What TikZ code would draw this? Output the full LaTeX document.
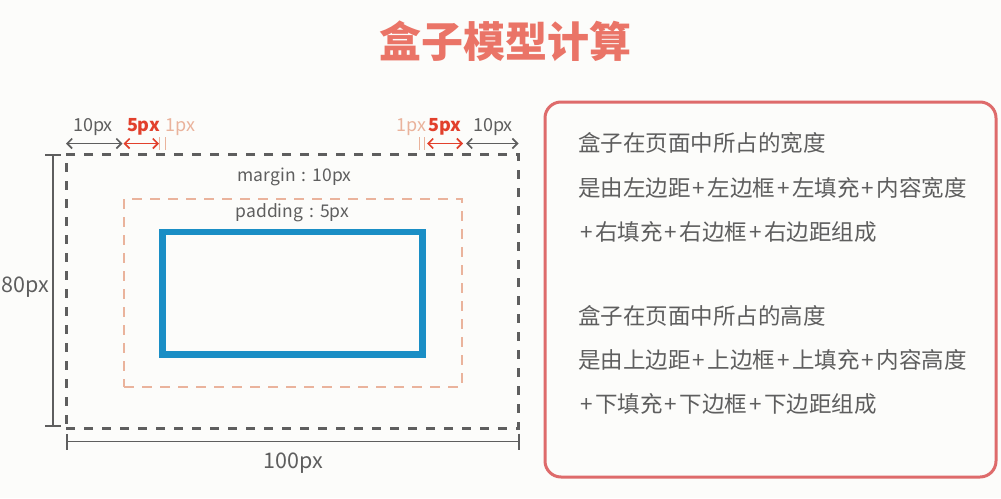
\documentclass[tikz,border=0pt]{standalone}
\usepackage{fontspec}
\setmainfont{Noto Sans CJK SC}
\usetikzlibrary{arrows.meta}

\definecolor{bg}{HTML}{FCFCFA}
\definecolor{ink}{HTML}{5E5E5E}
\definecolor{titlered}{HTML}{EA7467}
\definecolor{accent}{HTML}{E2402C}
\definecolor{peach}{HTML}{EAB39C}
\definecolor{boxblue}{HTML}{1A8EC5}
\definecolor{panelred}{HTML}{DE6B6B}

% a plus sign with a fixed advance, between CJK characters
\newcommand\pl{\makebox[17pt]{+}}
% a spaced colon inside the box labels
\newcommand\spcolon{\makebox[17pt]{:}}

\tikzset{
  titletext/.style={text=titlered, font=\fontsize{42}{50}\selectfont\bfseries, inner sep=0},
  dimlabel/.style={text=ink, font=\fontsize{18}{22}\selectfont, inner sep=0},
  redlabel/.style={text=accent, font=\fontsize{18}{22}\selectfont\bfseries, inner sep=0},
  peachlabel/.style={text=peach, font=\fontsize{18}{22}\selectfont, inner sep=0},
  boxlabel/.style={text=ink, font=\fontsize{17.5}{21}\selectfont, inner sep=0},
  biglabel/.style={text=ink, font=\fontsize{21.5}{25}\selectfont, inner sep=0},
  marginbox/.style={draw=ink, line width=3pt, dash pattern=on 9pt off 9pt, inner sep=0, outer sep=0},
  paddingbox/.style={draw=peach, line width=2pt, dash pattern=on 10pt off 8pt, inner sep=0, outer sep=0},
  contentbox/.style={draw=boxblue, line width=6.5pt, inner sep=0, outer sep=0},
  panelbox/.style={draw=panelred, line width=3pt, rounded corners=16pt, inner sep=0, outer sep=0},
  graydim/.style={draw=ink, line width=1.6pt, {Straight Barb[length=5pt,width=10pt]}-{Straight Barb[length=5pt,width=10pt]}},
  reddim/.style={draw=accent, line width=1.6pt, {Straight Barb[length=5pt,width=10pt]}-{Straight Barb[length=5pt,width=10pt]}},
  barline/.style={draw=ink, line width=1.6pt, {Bar[width=16pt,line width=1.6pt]}-{Bar[width=16pt,line width=1.6pt]}},
  bordertick/.style={draw=peach, line width=1.4pt},
  paneltext/.style={text=ink, anchor=west, font=\fontsize{22.5}{27}\selectfont, inner sep=0},
}

\begin{document}
\begin{tikzpicture}[x=1pt,y=-1pt]
  \fill[bg] (0,0) rectangle (1001,498);
  \useasboundingbox (0,0) rectangle (1001,498);

  % heading
  \node[titletext] (title) at (505,41) {盒子模型计算};

  % the three nested boxes
  \node[marginbox, minimum width=452.5pt, minimum height=274pt] (mbox) at (292.25,291) {};
  \node[paddingbox, minimum width=337.5pt, minimum height=188.5pt] (pbox) at (292.75,292.75) {};
  \node[contentbox, minimum width=260pt, minimum height=122.5pt] (cbox) at (292.5,293.25) {};

  \node[boxlabel] (mlabel) at (294.5,177) {margin\spcolon 10px};
  \node[boxlabel] (plabel) at (292.5,213) {padding\spcolon 5px};

  % horizontal measures above the box
  \coordinate (tl0) at (66,143.5);
  \coordinate (tl1) at (122.5,143.5);
  \coordinate (tl2) at (123.5,143.5);
  \coordinate (tl3) at (159,143.5);
  \coordinate (tr0) at (427,143.5);
  \coordinate (tr1) at (463,143.5);
  \coordinate (tr2) at (466,143.5);
  \coordinate (tr3) at (518.5,143.5);
  \draw[graydim] (tl0) -- (tl1);
  \draw[reddim] (tl2) -- (tl3);
  \draw[reddim] (tr0) -- (tr1);
  \draw[graydim] (tr2) -- (tr3);

  % one-pixel border marks
  \coordinate (bl1a) at (159.5,137); \coordinate (bl1b) at (159.5,150);
  \coordinate (bl2a) at (165.5,137); \coordinate (bl2b) at (165.5,150);
  \coordinate (br1a) at (419.5,137); \coordinate (br1b) at (419.5,150);
  \coordinate (br2a) at (424.5,137); \coordinate (br2b) at (424.5,150);
  \draw[bordertick] (bl1a) -- (bl1b);
  \draw[bordertick] (bl2a) -- (bl2b);
  \draw[bordertick] (br1a) -- (br1b);
  \draw[bordertick] (br2a) -- (br2b);

  \node[dimlabel] (l10) at (93,127) {10px};
  \node[redlabel] (l5) at (143.5,127) {5px};
  \node[peachlabel] (l1) at (180.5,127) {1px};
  \node[peachlabel] (r1) at (411.5,127) {1px};
  \node[redlabel] (r5) at (445,127) {5px};
  \node[dimlabel] (r10) at (493,127) {10px};

  % overall height and width
  \coordinate (h0) at (53,154);
  \coordinate (h1) at (53,427);
  \draw[barline] (h0) -- (h1);
  \node[biglabel] (hlabel) at (25.5,287) {80px};

  \coordinate (w0) at (66,441.5);
  \coordinate (w1) at (519.5,441.5);
  \draw[barline] (w0) -- (w1);
  \node[biglabel] (wlabel) at (293,463) {100px};

  % explanation panel
  \node[panelbox, minimum width=451pt, minimum height=375pt] (panel) at (770.5,289.5) {};
  \node[paneltext] (t1) at (578,143) {盒子在页面中所占的宽度};
  \node[paneltext] (t2) at (578,188) {是由左边距\pl 左边框\pl 左填充\pl 内容宽度};
  \node[paneltext] (t3) at (578,232) {\pl 右填充\pl 右边框\pl 右边距组成};
  \node[paneltext] (t4) at (578,316) {盒子在页面中所占的高度};
  \node[paneltext] (t5) at (578,360) {是由上边距\pl 上边框\pl 上填充\pl 内容高度};
  \node[paneltext] (t6) at (578,404) {\pl 下填充\pl 下边框\pl 下边距组成};
\end{tikzpicture}
\end{document}
